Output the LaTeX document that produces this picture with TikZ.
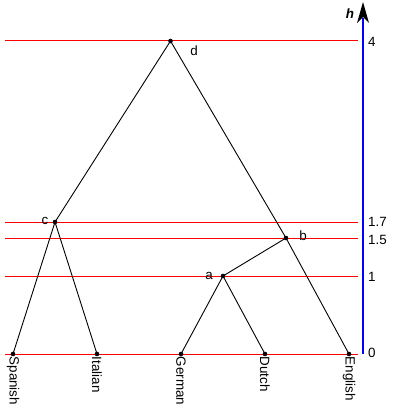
\documentclass[tikz,border=0pt]{standalone}
\usepackage{fontspec}
\setmainfont{Liberation Sans}
\definecolor{levelred}{RGB}{255,0,0}
\definecolor{axisblue}{RGB}{0,0,255}
\begin{document}
\begin{tikzpicture}[x=1pt,y=-1pt,
  txt/.style={font=\fontsize{13.4}{15}\selectfont, inner sep=1pt},
  level/.style={draw=levelred, line width=1pt},
  edge/.style={draw=black, line width=0.9pt},
  dot/.style={circle, fill=black, inner sep=0pt, minimum size=4.6pt},
  leaflabel/.style={txt, rotate=-90, anchor=west, inner sep=1.5pt}]
\useasboundingbox (0,0) rectangle (392,409);

% height levels
\coordinate (l0a) at (5,354);   \coordinate (l0b) at (358,354);
\coordinate (l1a) at (5,276);   \coordinate (l1b) at (358,276);
\coordinate (l15a) at (5,238);  \coordinate (l15b) at (358,238);
\coordinate (l17a) at (5,222);  \coordinate (l17b) at (358,222);
\coordinate (l4a) at (5,41);    \coordinate (l4b) at (358,41);
\draw[level] (l4a) -- (l4b);
\draw[level] (l17a) -- (l17b);
\draw[level] (l15a) -- (l15b);
\draw[level] (l1a) -- (l1b);
\draw[level] (l0a) -- (l0b);

% height axis (a thin blue bar) with a filled arrowhead on top
\coordinate (ax0) at (363,354);
\coordinate (axtop) at (363,2);
\fill[fill=axisblue] (362.3,354) rectangle (363.7,18);
\fill[fill=black] (axtop) -- (369,23) -- (363,17) -- (357,23) -- cycle;

\node[txt, font=\fontsize{13.4}{15}\selectfont\bfseries\itshape] (hlab) at (350,14) {h};
\node[txt, anchor=west] (t4) at (367,42) {4};
\node[txt, anchor=west] (t17) at (367,222) {1.7};
\node[txt, anchor=west] (t15) at (367,240) {1.5};
\node[txt, anchor=west] (t1) at (367,277) {1};
\node[txt, anchor=west] (t0) at (367,353) {0};

% leaves
\node[dot] (sp) at (13,354) {};
\node[dot] (it) at (97,354) {};
\node[dot] (ge) at (181,354) {};
\node[dot] (du) at (265,354) {};
\node[dot] (en) at (349,354) {};

% merge points
\node[dot] (a) at (223,276) {};
\node[dot] (b) at (286,238) {};
\node[dot] (c) at (55,222) {};
\node[dot] (d) at (170.5,41) {};

% tree edges
\draw[edge] (c.center) -- (sp.center);
\draw[edge] (c.center) -- (it.center);
\draw[edge] (a.center) -- (ge.center);
\draw[edge] (a.center) -- (du.center);
\draw[edge] (b.center) -- (a.center);
\draw[edge] (b.center) -- (en.center);
\draw[edge] (d.center) -- (c.center);
\draw[edge] (d.center) -- (b.center);

% merge labels
\node[txt] (dl) at (194,51) {d};
\node[txt] (cl) at (45,221) {c};
\node[txt] (bl) at (303,236) {b};
\node[txt] (al) at (209,276) {a};

% leaf labels
\node[leaflabel] (spl) at (13,355) {Spanish};
\node[leaflabel] (itl) at (97,355) {Italian};
\node[leaflabel] (gel) at (181,355) {German};
\node[leaflabel] (dul) at (265,355) {Dutch};
\node[leaflabel] (enl) at (349,355) {English};
\end{tikzpicture}
\end{document}
